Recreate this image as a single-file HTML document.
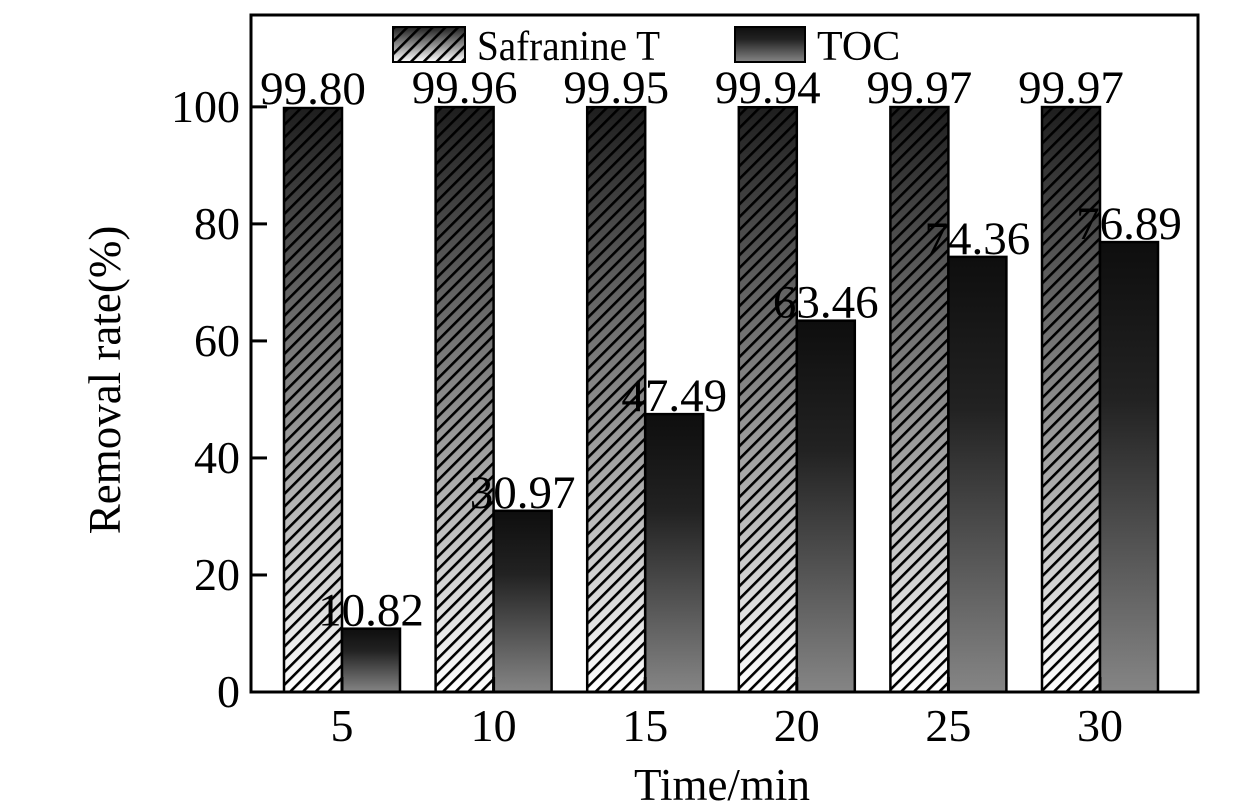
<!DOCTYPE html>
<html><head><meta charset="utf-8"><style>
html,body{margin:0;padding:0;background:#fff;}
svg{display:block;font-family:"Liberation Serif",serif;}
</style></head><body>
<svg id="chart" width="1260" height="803" viewBox="0 0 1260 803">
<defs>
<linearGradient id="gSaf" x1="0" y1="0" x2="0" y2="1">
<stop offset="0" stop-color="#1e1e1e"/><stop offset="0.5" stop-color="#8a8a8a"/><stop offset="1" stop-color="#ffffff"/>
</linearGradient>
<linearGradient id="gToc" x1="0" y1="0" x2="0" y2="1">
<stop offset="0" stop-color="#0e0e0e"/><stop offset="0.35" stop-color="#222"/><stop offset="1" stop-color="#858585"/>
</linearGradient>
<pattern id="hatch" patternUnits="userSpaceOnUse" width="9" height="9" patternTransform="rotate(45)">
<rect x="0" y="0" width="2.6" height="9" fill="#000"/>
</pattern>
</defs>
<g id="plot"></g>
</svg>
<script>
const categories = ["5","10","15","20","25","30"];
const safranine = [99.80, 99.96, 99.95, 99.94, 99.97, 99.97];
const toc = [10.82, 30.97, 47.49, 63.46, 74.36, 76.89];
const safLabels = ["99.80","99.96","99.95","99.94","99.97","99.97"];
const tocLabels = ["10.82","30.97","47.49","63.46","74.36","76.89"];
const yTicks = [0,20,40,60,80,100];

const L=251, R=1198, T=15, B=692;
const yMin=0, yMax=115.7;
const y = v => B - (v - yMin) / (yMax - yMin) * (B - T);
const x = i => 342 + i * 151.6;
const bw = 58;
const NS="http://www.w3.org/2000/svg";
const g=document.getElementById('plot');
function mk(tag, attrs, parent){const e=document.createElementNS(NS,tag);for(const k in attrs)e.setAttribute(k,attrs[k]);(parent||g).appendChild(e);return e;}

categories.forEach((c,i)=>{
  const cx=x(i);
  const ys=y(safranine[i]);
  const b1=mk('rect',{x:cx-bw,y:ys,width:bw,height:B-ys,fill:'url(#gSaf)'});
  
  
  const h1=mk('rect',{x:cx-bw,y:ys,width:bw,height:B-ys,fill:'url(#hatch)',stroke:'#000','stroke-width':2.5});
  
  
  const yt=y(toc[i]);
  const b2=mk('rect',{x:cx,y:yt,width:bw,height:B-yt,fill:'url(#gToc)',stroke:'#000','stroke-width':2.5});
  
  
  const t1=mk('text',{x:cx-bw/2,y:ys-4,'font-size':47,'text-anchor':'middle'});
  t1.textContent=safLabels[i];
  
  
  const t2=mk('text',{x:cx+bw/2,y:yt-3,'font-size':47,'text-anchor':'middle'});
  t2.textContent=tocLabels[i];
  
  
  const xt=mk('line',{x1:cx,x2:cx,y1:B,y2:B-15,stroke:'#000','stroke-width':3});
  
  
  const xl=mk('text',{x:cx,y:741,'font-size':46,'text-anchor':'middle'});
  xl.textContent=c;
  
  
});
yTicks.forEach(v=>{
  const yy=y(v);
  const tk=mk('line',{x1:L,x2:L+16,y1:yy,y2:yy,stroke:'#000','stroke-width':3});
  
  
  const tl=mk('text',{x:240,y:yy+15,'font-size':46,'text-anchor':'end'});
  tl.textContent=v;
  
  
});
const frame=mk('rect',{x:L,y:T,width:R-L,height:B-T,fill:'none',stroke:'#000','stroke-width':3});



const lg=mk('g',{});


const lb1=mk('rect',{x:393,y:27,width:72,height:35,fill:'url(#gSaf)'},lg);


const lb1h=mk('rect',{x:393,y:27,width:72,height:35,fill:'url(#hatch)',stroke:'#000','stroke-width':2},lg);


const lt1=mk('text',{x:477,y:60,'font-size':42,textLength:183,lengthAdjust:'spacingAndGlyphs'},lg);
lt1.textContent='Safranine T';


const lb2=mk('rect',{x:735,y:27,width:70,height:35,fill:'url(#gToc)',stroke:'#000','stroke-width':2},lg);


const lt2=mk('text',{x:817,y:60,'font-size':42},lg);
lt2.textContent='TOC';



const xt=mk('text',{x:722,y:800,'font-size':45,'text-anchor':'middle'});
xt.textContent='Time/min';


const yt=mk('text',{x:0,y:0,'font-size':45,'text-anchor':'middle',transform:'translate(120,380) rotate(-90)'});
yt.textContent='Removal rate(%)';


</script>
</body></html>
